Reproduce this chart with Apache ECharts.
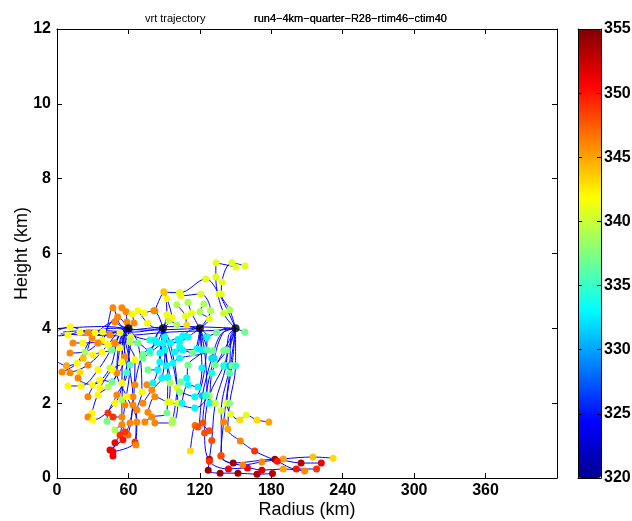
<!DOCTYPE html>
<html>
<head>
<meta charset="utf-8">
<script src="https://cdn.jsdelivr.net/npm/echarts@6/dist/echarts.min.js"></script>
<style>
html,body{margin:0;padding:0;background:#fff;}
#chart{width:632px;height:521px;}
</style>
</head>
<body>
<div id="chart"></div>
<script>
// end points of the trajectories (black dots), r in km, z in km
var startR = [60, 89, 120, 150];
var startZ = [4, 4, 4, 4];

// each chain: [r, z, theta] points, ending at its start point
// theta null = path vertex only (no dot)
var toS1 = [
  [[1,3.95,null],[11,4.04,342],[26,3.88,346],[44.5,3.82,346],[52,3.95,null]],
  [[0.5,3.8,null],[9.2,3.82,342],[19.3,3.9,342],[38.6,3.9,342],[52.9,3.88,341]],
  [[4.2,2.83,346],[16.8,3.07,342],[29.4,3.74,346],[48.7,4.17,346],[54,4.05,null]],
  [[10.9,3.34,346],[23.5,3.37,339],[34.4,3.61,346],[51,4.3,346]],
  [[13.4,3.61,346],[21.8,3.61,342],[37.8,3.69,342],[47,4.55,346],[53,4.1,null]],
  [[10.9,2.81,346],[26,3.02,346],[42.8,3.56,342],[52,3.92,null]],
  [[9.2,2.46,342],[20.1,2.46,342],[34.4,2.89,342],[48.7,3.61,346],[54,3.9,null]],
  [[26,2.17,346],[36,2.62,342],[46.2,2.57,337],[52.9,3.48,342],[55,3.88,null]],
  [[29.4,1.74,342],[34.4,2.22,342],[42.8,2.43,339],[57,3.24,346],[56,3.85,null]],
  [[26,1.63,346],[30.2,1.55,342],[48.7,2.0,342],[54.5,2.54,342],[55,3.6,null]],
  [[47,0.59,351],[48.7,0.94,351],[52.9,1.15,349],[57,1.95,346],[61.3,3.02,336],[57,3.8,null]],
  [[44.5,0.75,351],[55.4,1.02,350],[59.6,1.15,347],[63.8,1.95,346],[65.5,3.16,342],[58,3.75,null]],
  [[47,0.7,351],[65.5,0.96,349],[67.1,1.82,346],[71.3,2.3,342],[68,3.61,337]],
  [[42,1.52,337],[42.8,1.74,349],[50.3,2.22,346],[58.7,2.81,335],[56,3.7,null]],
  [[47,1.63,349],[54.5,1.63,346],[54.5,2.09,339],[62,3.77,341]],
  [[48.7,1.28,339],[54.5,1.42,346],[57,1.23,349],[61.3,1.47,346],[63.8,2.17,346],[60,3.3,null]],
  [[66.3,0.88,346],[67.1,1.5,346],[58.7,2.17,342],[50.3,2.81,346],[53,3.7,null]],
  [[19.3,2.83,343],[17.6,2.67,346],[29.4,2.49,342],[44.5,2.94,339],[52,3.8,null]],
  [[36,2.41,342],[46.2,2.9,342],[54.5,3.1,342],[55,3.75,null]],
  [[54.5,4.55,346],[58,4.44,346],[58.7,4.17,346]],
  [[63,4.38,342],[64.6,4.14,346]],
  [[34.4,3.61,346],[42.8,3.56,342],[48.7,3.61,346],[61.3,3.64,339]],
  [[30.2,3.29,342],[37.8,3.37,342],[46,3.42,337],[53,3.85,null]],
  [[0.5,3.1,null],[8,3.0,345],[22,3.2,344],[31.9,3.88,342],[50,4.0,null]]
];

var toS2 = [
  [[68,4.47,342],[76,4.14,342],[82,4.02,null]],
  [[73,4.41,342],[81.4,4.47,346]],
  [[82.2,4.47,346],[89.8,4.97,344],[92.3,4.36,342]],
  [[92.3,4.79,342],[96.5,4.28,342]],
  [[60,3.85,null],[78,3.69,334],[82.2,3.69,333],[85,3.9,null]],
  [[72.2,3.21,337],[78,3.34,337],[90.6,3.77,333]],
  [[76.4,2.89,337],[84.7,2.89,333],[86.4,3.34,333]],
  [[75.5,2.49,346],[80.6,2.54,333],[86.4,3.1,333]],
  [[72.2,2.0,346],[79.7,2.35,346],[88,2.67,333],[90.6,3.42,333]],
  [[76.4,1.76,346],[82.2,2.17,346],[93,2.03,341],[95,2.54,339],[90,3.5,null]],
  [[73.8,1.5,346],[79.7,1.63,346],[92.3,1.74,337],[93,2.7,333]],
  [[82.2,1.47,346],[96.5,1.47,339],[101.5,2.0,341],[97.3,3.07,333]],
  [[97.3,1.55,339],[100.7,2.41,341],[95,3.61,333]],
  [[65.5,2.49,346],[72,3.3,337],[84,3.61,333]],
  [[61.3,3.64,339],[68,3.61,337],[78,3.4,334],[84,3.85,null]],
  [[100.7,4.09,339],[94,4.2,340]],
  [[5,3.9,null],[30,3.95,null],[65,3.9,null],[82,3.97,null]]
];

var toS3 = [
  [[100.7,4.63,339],[108,4.33,341],[109,4.09,343]],
  [[110,4.7,339],[113,4.41,341]],
  [[123.4,4.65,339],[120,4.44,339],[128,4.25,341]],
  [[103,4.95,341],[104,4.87,341],[120.8,4.92,341],[129,4.47,339]],
  [[95,3.61,333],[103,3.64,333],[110,3.77,333]],
  [[99,3.37,333],[105.7,3.42,333],[117.5,3.45,333]],
  [[101.5,3.7,333],[103,3.5,333],[114,3.34,337]],
  [[104,2.57,337],[109,2.67,333],[110,3.02,337],[121.7,3.42,333]],
  [[105,2.0,333],[110,2.49,333],[118.3,2.43,333],[121.7,2.94,333]],
  [[103,2.3,338],[115.8,2.17,333],[126,3.77,333]],
  [[95,2.03,341],[115.8,1.87,333],[126,2.22,333],[124,3.4,null]],
  [[92,3.0,333],[103,3.2,333],[126,3.42,336]],
  [[89,3.6,333],[105.7,3.8,333],[112,3.95,null]],
  [[2,4.0,null],[40,4.05,null],[75,3.95,null],[105,3.98,null]]
];

var toS4 = [
  [[126,3.77,333],[134,3.88,337],[142,4.0,null]],
  [[128.4,2.0,333],[130,2.8,334],[142.7,3.42,337]],
  [[131,3.4,337],[132.6,3.02,337],[140,3.4,337]],
  [[157.8,3.9,337]],
  [[157.8,5.67,341],[146.8,5.75,341],[138.5,5.24,341],[138,4.92,341],[145,4.5,339]],
  [[150.2,5.64,341],[133.6,5.75,341],[133.4,5.37,341],[140,4.4,340]],
  [[89.8,4.97,344],[103,4.95,341],[125,5.32,341],[136,4.92,341]],
  [[181,0.12,353],[168,0.1,353],[152,0.13,354],[137,0.13,354],[127,0.21,354],[128,0.5,353],[130,1.0,348],[133,2.0,340],[142,3.0,336],[144,3.8,null]],
  [[208,0.19,346],[190,0.24,345],[172,0.21,352],[160,0.27,351],[144,0.24,351],[128,0.45,349],[124,1.2,348],[128,2.2,339],[140,3.0,334]],
  [[222,0.4,351],[205,0.4,353],[183,0.5,354],[148,0.4,354],[138,0.6,347],[138,1.8,340],[145,3.0,331],[146,3.8,null]],
  [[232,0.53,343],[215,0.56,344],[190,0.51,345],[172,0.43,346],[156,0.35,346],[137.6,0.59,348],[140,1.5,346],[145,2.8,336]],
  [[178,1.5,345],[168,1.55,343],[159,1.68,341],[153.6,1.55,343],[146,1.71,341],[142.7,2.0,342],[147,3.0,338]],
  [[218,0.24,349],[201,0.24,350],[185,0.45,350],[166,0.72,349],[154,0.99,346],[143.5,1.31,345],[145,2.0,338],[150,3.0,335]],
  [[112,0.72,343],[116,1.4,347],[118.3,1.36,348],[122,2.2,331],[130,3.2,332],[138,3.85,null]],
  [[128,1.26,348],[122.5,1.47,348],[125,2.2,335],[132,3.2,332],[140,3.9,null]],
  [[3,3.85,null],[50,3.8,null],[95,3.9,null],[135,3.95,null]],
  [[62,3.95,null],[100,4.05,null],[138,4.02,null]]
];

var xTicks = [0, 60, 120, 180, 240, 300, 360];
var yTicks = [0, 2, 4, 6, 8, 10, 12];
var cbTicks = [320, 325, 330, 335, 340, 345, 350, 355];

var jet = ['#00008F','#0000FF','#0080FF','#00FFFF','#80FF80','#FFFF00','#FF8000','#FF0000','#800000'];
var font = 'Liberation Sans';

var groups = [toS1, toS2, toS3, toS4];
var series = [], dots = [];
groups.forEach(function(g, s){
  g.forEach(function(chain){
    var pts = chain.map(function(p){ return [p[0], p[1]]; });
    pts.push([startR[s], startZ[s]]);
    series.push({
      type:'line', xAxisIndex:0, yAxisIndex:0, data:pts, smooth:0.35,
      symbol:'none', silent:true, z:2,
      lineStyle:{color:'#0000FF', width:1}
    });
    chain.forEach(function(p){ if (p[2] !== null) dots.push(p); });
  });
});
var dotIndex = series.length;
series.push({
  type:'scatter', xAxisIndex:0, yAxisIndex:0, data:dots, z:3,
  symbolSize:7, itemStyle:{opacity:1}
});
series.push({
  type:'scatter', xAxisIndex:0, yAxisIndex:0, z:4,
  data:startR.map(function(r,i){ return [r, startZ[i]]; }),
  symbolSize:8, itemStyle:{color:'#000'}
});

var tickLab = {fontFamily:font, fontWeight:'bold', fontSize:16, color:'#000'};
var line = {onZero:false, lineStyle:{color:'#000', width:1}};
var tick = {inside:true, length:5, lineStyle:{color:'#000'}};

var chart = echarts.init(document.getElementById('chart'));
chart.setOption({
  animation:false,
  backgroundColor:'#fff',
  title:[
    {text:'vrt trajectory', left:140, top:8, textStyle:{fontFamily:font, fontSize:11, fontWeight:'normal', color:'#000'}},
    {text:'run4−4km−quarter−R26−rtim46−ctim40', left:249, top:8, textStyle:{fontFamily:font, fontSize:11, fontWeight:'normal', color:'#000'}},
    {text:'run4−4km−quarter−R28−rtim46−ctim40', left:249, top:8, textStyle:{fontFamily:font, fontSize:11, fontWeight:'normal', color:'#000'}}
  ],
  grid:[
    {left:57, top:29, right:75, bottom:43, show:false, outerBoundsMode:'none', containLabel:false},
    {left:578, top:29, width:23, height:449, show:false, outerBoundsMode:'none', containLabel:false}
  ],
  xAxis:[
    {gridIndex:0, type:'value', min:0, max:420, interval:60, position:'bottom',
     name:'Radius (km)', nameLocation:'middle', nameGap:23, nameMoveOverlap:false,
     nameTextStyle:{fontFamily:font, fontSize:18, color:'#000', verticalAlign:'top'},
     axisLine:line, axisTick:tick,
     axisLabel:Object.assign({margin:5, formatter:function(v){ return xTicks.indexOf(v) >= 0 ? String(v) : ''; }}, tickLab),
     splitLine:{show:false}},
    {gridIndex:0, type:'value', min:0, max:420, interval:60, position:'top',
     axisLine:line, axisTick:tick, axisLabel:{show:false}, splitLine:{show:false}},
    {gridIndex:1, type:'value', min:0, max:1, position:'bottom', z:5,
     axisLine:line, axisTick:{show:false}, axisLabel:{show:false}, splitLine:{show:false}},
    {gridIndex:1, type:'value', min:0, max:1, position:'top', z:5,
     axisLine:line, axisTick:{show:false}, axisLabel:{show:false}, splitLine:{show:false}}
  ],
  yAxis:[
    {gridIndex:0, type:'value', min:0, max:12, interval:2, position:'left',
     name:'Height (km)', nameLocation:'middle', nameGap:26, nameRotate:90, nameMoveOverlap:false,
     nameTextStyle:{fontFamily:font, fontSize:18, color:'#000', verticalAlign:'bottom'},
     axisLine:line, axisTick:tick,
     axisLabel:Object.assign({margin:6, formatter:function(v){ return yTicks.indexOf(v) >= 0 ? String(v) : ''; }}, tickLab),
     splitLine:{show:false}},
    {gridIndex:0, type:'value', min:0, max:12, interval:2, position:'right',
     axisLine:line, axisTick:tick, axisLabel:{show:false}, splitLine:{show:false}},
    {gridIndex:1, type:'value', min:320, max:355, interval:5, position:'right', z:5,
     axisLine:line, axisTick:{inside:true, length:4, lineStyle:{color:'#000'}},
     axisLabel:Object.assign({margin:3, formatter:function(v){ return cbTicks.indexOf(v) >= 0 ? String(v) : ''; }}, tickLab),
     splitLine:{show:false}},
    {gridIndex:1, type:'value', min:320, max:355, interval:5, position:'left', z:5,
     axisLine:line, axisTick:{inside:true, length:4, lineStyle:{color:'#000'}},
     axisLabel:{show:false}, splitLine:{show:false}}
  ],
  visualMap:{
    type:'continuous', min:320, max:355, dimension:2, seriesIndex:dotIndex,
    left:578, top:29, itemWidth:23, itemHeight:449, padding:0,
    text:null, showLabel:false, calculable:false, hoverLink:false, z:1,
    inRange:{color:jet}
  },
  series:series
});
</script>
</body>
</html>
